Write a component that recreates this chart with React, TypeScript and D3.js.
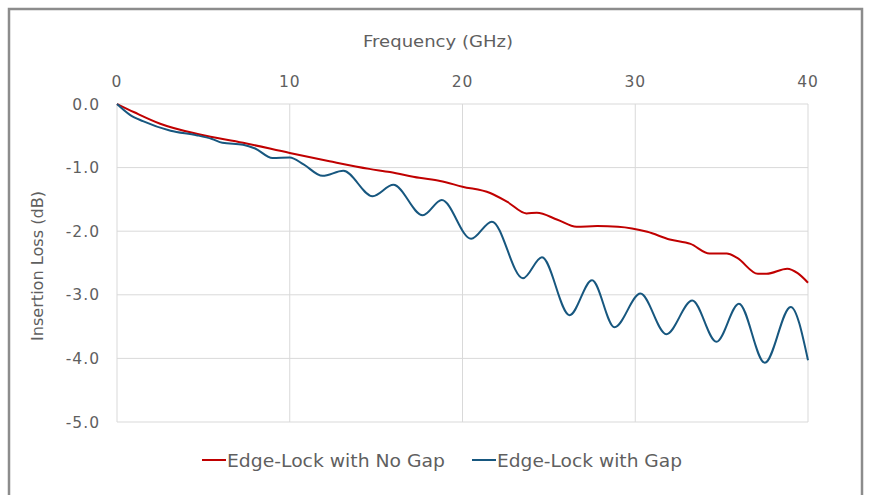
import { useRef, useEffect } from "react";
import * as d3 from "d3";

// Frequency (GHz) / insertion loss (dB)
const noGapFreq = [0, 1, 2.5, 4.8, 7.3, 10, 12.3, 14.6, 15.8, 17.5, 18.7, 20, 21.6, 22.6, 23.7, 24.3, 25.5, 26.6, 27.8, 29, 30.7, 32, 33.2, 34.3, 35.3, 35.9, 37.1, 37.6, 38.8, 39.4, 40];
const noGapLoss = [0, -0.13, -0.31, -0.48, -0.61, -0.77, -0.9, -1.02, -1.07, -1.16, -1.21, -1.3, -1.4, -1.54, -1.72, -1.71, -1.82, -1.93, -1.92, -1.93, -2.01, -2.13, -2.2, -2.35, -2.35, -2.42, -2.67, -2.67, -2.59, -2.66, -2.81];

const gapFreq = [0, 0.75, 1.5, 3.1, 4.6, 5.5, 6.1, 7.3, 8.0, 9.0, 10.0, 10.8, 11.9, 13.1, 14.8, 16.0, 17.7, 18.8, 20.5, 21.7, 23.5, 24.6, 26.2, 27.5, 28.8, 30.3, 31.8, 33.3, 34.7, 36.0, 37.5, 39.0, 40];
const gapLoss = [0, -0.17, -0.27, -0.42, -0.49, -0.55, -0.61, -0.64, -0.7, -0.85, -0.84, -0.95, -1.13, -1.05, -1.45, -1.27, -1.75, -1.51, -2.12, -1.85, -2.74, -2.41, -3.32, -2.77, -3.51, -2.98, -3.62, -3.09, -3.74, -3.14, -4.07, -3.19, -4.03];

const xTicks = [0, 10, 20, 30, 40];
const yTicks = [0, -1, -2, -3, -4, -5];

const seriesNames = ["Edge-Lock with No Gap", "Edge-Lock with Gap"];
const seriesColors = ["#C00000", "#17577F"];

const width = 871;
const height = 495;
const font = "'DejaVu Sans', sans-serif";
const textColor = "#5f5f5f";

export default function App() {
  const ref = useRef<SVGSVGElement>(null);

  useEffect(() => {
    if (!ref.current) return;
    const svg = d3.select(ref.current);
    svg.selectAll("*").remove();

    const xScale = d3.scaleLinear().domain([0, 40]).range([117, 808]);
    const yScale = d3.scaleLinear().domain([0, -5]).range([104, 422]);

    // outer frame (bottom edge is cut off)
    svg
      .append("rect")
      .attr("x", 9)
      .attr("y", 9)
      .attr("width", 853)
      .attr("height", 520)
      .attr("fill", "#fff")
      .attr("stroke", "#8c8c8c")
      .attr("stroke-width", 2.5);

    // gridlines
    const grid = svg.append("g").attr("stroke", "#d9d9d9").attr("stroke-width", 1);
    grid
      .selectAll("line.h")
      .data(yTicks)
      .join("line")
      .attr("x1", xScale(0))
      .attr("x2", xScale(40))
      .attr("y1", (d) => yScale(d))
      .attr("y2", (d) => yScale(d));
    grid
      .selectAll("line.v")
      .data(xTicks)
      .join("line")
      .attr("class", "v")
      .attr("x1", (d) => xScale(d))
      .attr("x2", (d) => xScale(d))
      .attr("y1", yScale(0))
      .attr("y2", yScale(-5));

    // top axis tick labels
    svg
      .append("g")
      .selectAll("text")
      .data(xTicks)
      .join("text")
      .attr("x", (d) => xScale(d))
      .attr("y", 87)
      .attr("text-anchor", "middle")
      .attr("font-family", font)
      .attr("font-size", 15.5)
      .attr("letter-spacing", 1)
      .attr("fill", textColor)
      .text((d) => d);

    // left axis tick labels
    svg
      .append("g")
      .selectAll("text")
      .data(yTicks)
      .join("text")
      .attr("x", 100)
      .attr("y", (d) => yScale(d) + 5.5)
      .attr("text-anchor", "end")
      .attr("font-family", font)
      .attr("font-size", 15.5)
      .attr("letter-spacing", 1)
      .attr("fill", textColor)
      .text((d) => d3.format(".1f")(d).replace("−", "-"));

    // axis titles
    svg
      .append("text")
      .attr("x", 438)
      .attr("y", 47)
      .attr("text-anchor", "middle")
      .attr("font-family", font)
      .attr("font-size", 16.5)
      .attr("textLength", 150)
      .attr("lengthAdjust", "spacingAndGlyphs")
      .attr("fill", textColor)
      .text("Frequency (GHz)");
    svg
      .append("text")
      .attr("transform", `translate(43, 266) rotate(-90)`)
      .attr("text-anchor", "middle")
      .attr("font-family", font)
      .attr("font-size", 16.5)
      .attr("textLength", 150)
      .attr("lengthAdjust", "spacingAndGlyphs")
      .attr("fill", textColor)
      .text("Insertion Loss (dB)");

    // series lines
    const series = [
      noGapFreq.map((f, i) => [f, noGapLoss[i]] as [number, number]),
      gapFreq.map((f, i) => [f, gapLoss[i]] as [number, number]),
    ];
    const line = d3
      .line<[number, number]>()
      .x((d) => xScale(d[0]))
      .y((d) => yScale(d[1]))
      .curve(d3.curveMonotoneX);

    svg
      .append("g")
      .selectAll("path")
      .data(series)
      .join("path")
      .attr("fill", "none")
      .attr("stroke", (_, i) => seriesColors[i])
      .attr("stroke-width", 2)
      .attr("d", line);

    // legend
    const legendX = [202, 472];
    const legendTextLen = [218, 185];
    const legend = svg
      .append("g")
      .selectAll("g")
      .data(seriesNames)
      .join("g")
      .attr("transform", (_, i) => `translate(${legendX[i]}, 460)`);
    legend
      .append("line")
      .attr("x1", 0)
      .attr("x2", 24)
      .attr("stroke", (_, i) => seriesColors[i])
      .attr("stroke-width", 2);
    legend
      .append("text")
      .attr("x", 25)
      .attr("y", 7)
      .attr("font-family", font)
      .attr("font-size", 17.5)
      .attr("textLength", (_, i) => legendTextLen[i])
      .attr("lengthAdjust", "spacingAndGlyphs")
      .attr("fill", textColor)
      .text((d) => d);
  }, []);

  return (
    <svg
      ref={ref}
      width={width}
      height={height}
      style={{ position: "absolute", left: 0, top: 0, display: "block" }}
    />
  );
}
